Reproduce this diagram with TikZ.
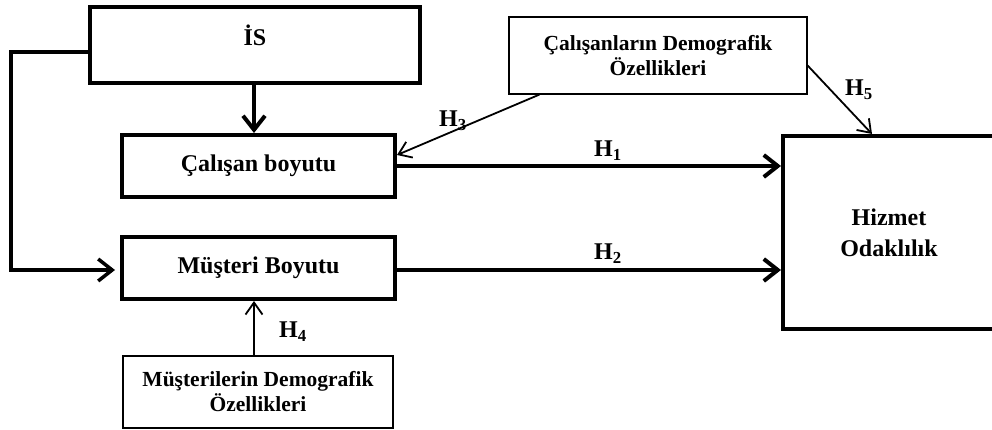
\documentclass[tikz,border=0pt]{standalone}
\usepackage{fontspec}
\setmainfont{Liberation Serif}
\usepackage{tikz}
\usetikzlibrary{arrows.meta}
\newcommand{\hsub}[1]{H\textsubscript{#1}}

\begin{document}
\begin{tikzpicture}[x=1pt,y=-1pt]
	\tikzstyle{every node}=[font=\bfseries\fontsize{24}{31}\selectfont]
	\tikzstyle{bigbox}=[draw=black, line width=4pt, inner sep=0pt, align=center]
	\tikzstyle{smallbox}=[draw=black, line width=1.2pt, inner sep=0pt, align=center, font=\bfseries\fontsize{21.5}{25}\selectfont]
	\tikzstyle{thickarrow}=[line width=4pt, -{Straight Barb[length=14pt,width=22pt]}]
	\tikzstyle{thinarrow}=[line width=1.8pt, -{Straight Barb[length=12pt,width=17pt]}]

	\useasboundingbox (0,0) rectangle (992,430);

	% boxes
	\node[bigbox, minimum width=330pt, minimum height=76pt] (is) at (255,45) {};
	\node (istext) at (255,35) {İS};
	\node[bigbox, minimum width=273pt, minimum height=62pt] (cal) at (258.5,166) {Çalışan boyutu};
	\node[bigbox, minimum width=273pt, minimum height=62pt] (mus) at (258.5,268) {Müşteri Boyutu};
	\node[bigbox, minimum width=212pt, minimum height=193pt] (hiz) at (889,232.5) {Hizmet\\Odaklılık};
	\node[smallbox, minimum width=298pt, minimum height=77pt] (cdem) at (658,55.5) {Çalışanların Demografik\\Özellikleri};
	\node[smallbox, minimum width=270pt, minimum height=72pt] (mdem) at (258,392) {Müşterilerin Demografik\\Özellikleri};

	% arrows
	\draw[thickarrow] (is.south -| 254,0) -- (cal.north -| 254,0);
	\draw[thickarrow, line width=3.5pt, shorten >=5pt] ([yshift=-7pt]is.west) -- ++(-77,0) |- ([yshift=-2pt]mus.west);
	\draw[thickarrow] (cal.east) -- (cal.east -| hiz.west);
	\draw[thickarrow] ([yshift=-2pt]mus.east) -- ([yshift=-2pt]mus.east -| hiz.west);
	\draw[thinarrow] ([xshift=31pt]cdem.south west) -- ([yshift=11pt]cal.east);
	\draw[thinarrow] ([yshift=-10pt]cdem.east) -- ([xshift=-17pt]hiz.north);
	\draw[thinarrow] (mdem.north -| 254,0) -- (mus.south -| 254,0);

	% labels
	\node (h1) at (608,151) {\hsub{1}};
	\node (h2) at (608,254) {\hsub{2}};
	\node (h3) at (453,121) {\hsub{3}};
	\node (h4) at (293,332) {\hsub{4}};
	\node (h5) at (859,90) {\hsub{5}};
\end{tikzpicture}
\end{document}
